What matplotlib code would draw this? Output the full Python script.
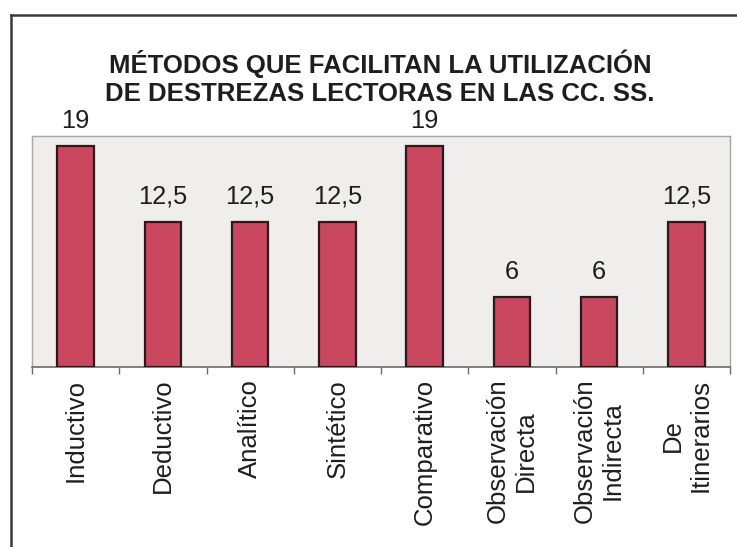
import matplotlib

matplotlib.use("Agg")

import matplotlib.pyplot as plt
from matplotlib.lines import Line2D
import numpy as np

TITLE = "MÉTODOS QUE FACILITAN LA UTILIZACIÓN\nDE DESTREZAS LECTORAS EN LAS CC. SS."
CATEGORIES = [
    "Inductivo",
    "Deductivo",
    "Analítico",
    "Sintético",
    "Comparativo",
    "Observación\nDirecta",
    "Observación\nIndirecta",
    "De\nItinerarios",
]
VALUES = [19, 12.5, 12.5, 12.5, 19, 6, 6, 12.5]

BAR = "#C9475F"
EDGE = "#2B1A1C"
PANEL = "#EFEEEC"
TEXT = "#1E1E1E"
FRAME = "#3A3A3A"

plt.rcParams["font.family"] = ["Liberation Sans", "DejaVu Sans"]

fig = plt.figure(figsize=(7.37, 5.47), dpi=100)
fig.patch.set_facecolor("white")

# outer chart frame (only left and top edges visible in the scan)
fig.add_artist(Line2D([11 / 737, 11 / 737], [0, 1 - 15 / 547], color=FRAME, lw=1.8,
                      transform=fig.transFigure))
fig.add_artist(Line2D([11 / 737, 1], [1 - 15 / 547, 1 - 15 / 547], color=FRAME, lw=1.8,
                      transform=fig.transFigure))

ax = fig.add_axes([32 / 737, 1 - 367 / 547, (730 - 32) / 737, (367 - 136) / 547])
ax.set_facecolor(PANEL)

x = np.arange(len(CATEGORIES))
ax.bar(x, VALUES, width=0.42, color=BAR, edgecolor=EDGE, linewidth=1.6, zorder=3)

for xi, v in zip(x, VALUES):
    label = f"{v:g}".replace(".", ",")
    ax.annotate(label, (xi, v), xytext=(0, 13.5), textcoords="offset points",
                ha="center", va="baseline", fontsize=18.3, color=TEXT,
                annotation_clip=False)

ax.set_xlim(-0.5, len(CATEGORIES) - 0.5)
ax.set_ylim(0, 19.9)

for side in ("left", "right", "top"):
    ax.spines[side].set_color("#A8A8A8")
    ax.spines[side].set_linewidth(1.0)
ax.spines["bottom"].set_color("#6A6A6A")
ax.spines["bottom"].set_linewidth(1.2)

ax.set_yticks([])
ax.set_xticks(np.arange(-0.5, len(CATEGORIES)), labels=[])
ax.set_xticks(x, labels=CATEGORIES, minor=True)
ax.tick_params(axis="x", which="major", direction="out", length=5, width=1.0, color="#6A6A6A")
ax.tick_params(axis="x", which="minor", length=0, pad=8.5, labelsize=18.5, labelcolor=TEXT)
for lab in ax.get_xticklabels(minor=True):
    lab.set_rotation(90)
    lab.set_multialignment("center")

fig.text(380 / 737, 1 - 50 / 547, TITLE, ha="center", va="top", fontsize=18.5,
         fontweight="bold", color=TEXT, linespacing=1.17)

fig.savefig("out.png", dpi=100)
